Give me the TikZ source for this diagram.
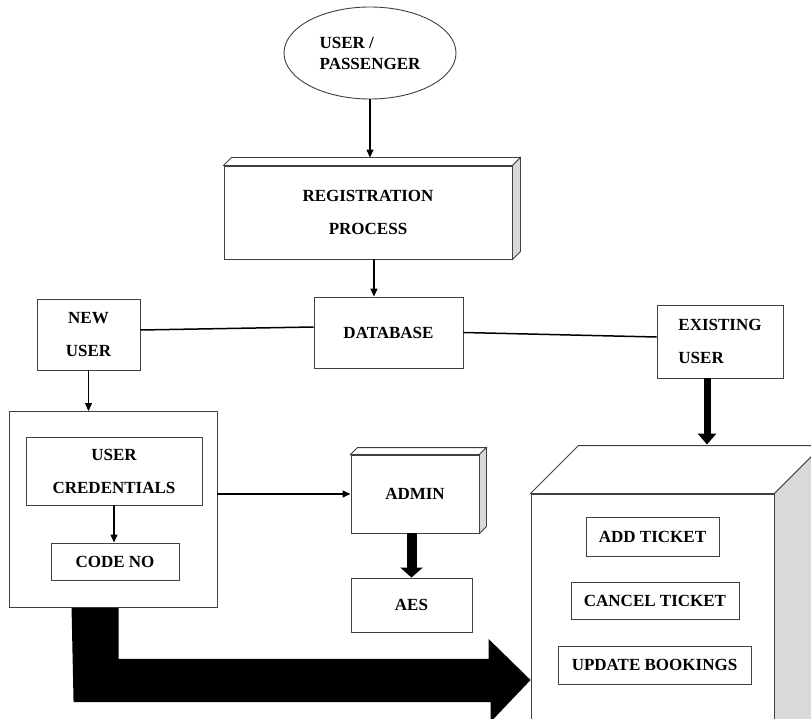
\documentclass[tikz,border=0pt]{standalone}
\usepackage{fontspec}
\setmainfont{Liberation Serif}
\usetikzlibrary{positioning}
\usetikzlibrary{shapes.geometric}
\usetikzlibrary{arrows.meta}

\begin{document}
\begin{tikzpicture}[x=1pt, y=-1pt,
                          ovalnode/.style={ellipse, draw=black!75, line width=0.9pt, minimum width=172pt, minimum height=92pt, align=left, font=\bfseries\fontsize{17}{21}\selectfont},
                          squarednode/.style={rectangle, draw=black!75, fill=white, line width=0.9pt, align=center, font=\bfseries\fontsize{17}{33}\selectfont},
                          thinarrow/.style={-{Triangle[length=8pt,width=7pt]}, line width=1.1pt},
                          fatarrow/.style={-{Triangle[length=11pt,width=18pt]}, line width=7pt},
                          fatterarrow/.style={-{Triangle[length=10pt,width=22pt]}, line width=10pt},
                      ]
                      \useasboundingbox (0,0) rectangle (811,719);
                      \clip (0,0) rectangle (811,719);

                      %Nodes
                      \node[ovalnode]                                                    (user)    at (370,53)      {USER /\\PASSENGER};
                      \node[squarednode, minimum width=288pt, minimum height=93pt]       (reg)     at (368,212.5)   {REGISTRATION\\PROCESS};
                      \node[squarednode, minimum width=149pt, minimum height=71pt]       (db)      at (388.5,332.5) {DATABASE};
                      \node[squarednode, minimum width=103pt, minimum height=71pt]       (newuser) at (88.5,334.5)  {NEW\\USER};
                      \node[squarednode, minimum width=126pt, minimum height=73pt, align=left] (exist) at (720,341.5) {EXISTING\\USER};
                      \node[squarednode, minimum width=208pt, minimum height=196pt]      (panel)   at (113,509.5)   {};
                      \node[squarednode, minimum width=176pt, minimum height=68pt]       (cred)    at (114,471)     {USER\\CREDENTIALS};
                      \node[squarednode, minimum width=128pt, minimum height=37pt]       (code)    at (115,561.5)   {CODE NO};
                      \node[squarednode, minimum width=128pt, minimum height=78pt]       (admin)   at (415,494)     {ADMIN};
                      \node[squarednode, minimum width=121pt, minimum height=54pt]       (aes)     at (411.5,605)   {AES};
                      \node[squarednode, minimum width=243pt, minimum height=266pt]      (cube)    at (652.5,627)   {};
                      \node[squarednode, minimum width=133pt, minimum height=39pt]       (add)     at (652.5,536.5) {ADD TICKET};
                      \node[squarednode, minimum width=168pt, minimum height=37pt]       (cancel)  at (655,600.5)   {CANCEL TICKET};
                      \node[squarednode, minimum width=193pt, minimum height=38pt]       (update)  at (654.5,665)   {UPDATE BOOKINGS};

                      %Depth faces
                      \foreach \n/\dep in {reg/8, admin/7, cube/48} {
                        \draw[draw=black!75, line width=0.9pt, fill=white] (\n.north west) -- ++(\dep pt,\dep pt) -- ([shift={(\dep pt,\dep pt)}]\n.north east) -- (\n.north east) -- cycle;
                        \draw[draw=black!75, line width=0.9pt, fill=gray!30] (\n.north east) -- ([shift={(\dep pt,\dep pt)}]\n.north east) -- ([shift={(\dep pt,\dep pt)}]\n.south east) -- (\n.south east) -- cycle;
                      }
                      \coordinate (regback)  at ([yshift=8pt]reg.north);
                      \coordinate (regout)   at ([xshift=6pt]reg.south);
                      \coordinate (cubeback) at ([yshift=49pt]cube.north);
                      \coordinate (existout) at ([xshift=-13pt]exist.south);
                      \coordinate (bigtip)   at (cube.west |- 0,680);

                      %Lines
                      \draw[thinarrow] (user.south) -- (user.south |- regback);
                      \draw[thinarrow] (regout) -- (regout |- db.north);
                      \draw[line width=1.5pt] ([yshift=4.5pt]newuser.east) -- ([yshift=5.5pt]db.west);
                      \draw[line width=1.5pt] (db.east) -- ([yshift=4.5pt]exist.west);
                      \draw[thinarrow] (newuser.south) -- (newuser.south |- panel.north);
                      \draw[thinarrow] (cred.south) -- (cred.south |- code.north);
                      \draw[thinarrow] (panel.east |- admin.west) -- (admin.west);
                      \draw[fatterarrow] (aes.north |- admin.south) -- (aes.north);
                      \draw[fatarrow] (existout) -- (existout |- cubeback);
                      \fill[black] ([xshift=63pt]panel.south west) -- ++(47pt,0) -- ++(0,-51pt) -- ++(370pt,0) -- ++(0,20pt)
                                   -- (bigtip) -- ++(-40pt,-42pt) -- ++(0,20pt) -- ++(-417pt,0) -- cycle;
                  \end{tikzpicture}
\end{document}
